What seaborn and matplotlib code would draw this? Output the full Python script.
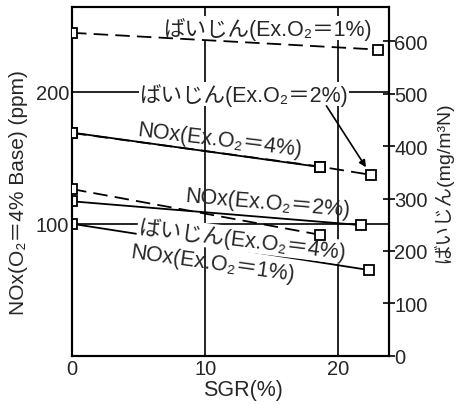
import matplotlib
matplotlib.use("Agg")
import matplotlib.pyplot as plt
import seaborn as sns
import pandas as pd

sns.set_theme(style="white")
FAM = ["Liberation Sans", "Noto Sans CJK JP", "DejaVu Sans"]
plt.rcParams["font.family"] = FAM

# ---- data (SGR %, values) ----
nox4_x = [0, 18.6]
nox4_y = [169, 143]          # ppm (left axis)
nox2_x = [0, 21.7]
nox2_y = [117, 99]
nox1_x = [0, 22.3]
nox1_y = [100, 65]
dust1_x = [0, 23.0]
dust1_y = [616, 584]         # mg/m3N (right axis)
dust2_x = [0, 18.6, 22.5]
dust2_y = [425, 361, 345]
dust4_x = [0, 18.6]
dust4_y = [318, 231]

x_ticks = [0, 10, 20]
x_ticklabels = ["0", "10", "20"]
left_ticks = [100, 200]
right_ticks = [0, 100, 200, 300, 400, 500, 600]

fig = plt.figure(figsize=(4.59, 4.06), dpi=100)
ax = fig.add_axes([0.157, 0.121, 0.690, 0.859])
ax2 = ax.twinx()

ax.set_xlim(0, 23.8)
ax.set_ylim(0, 264)
ax2.set_ylim(0, 665)

# grid lines
for gx in [10, 20]:
    ax.axvline(gx, color="black", lw=1.2, zorder=1)
for gy in left_ticks:
    ax.axhline(gy, color="black", lw=1.2, zorder=1)

mk = dict(marker="s", markersize=7, markerfacecolor="white",
          markeredgecolor="black", markeredgewidth=1.3, color="black", lw=1.3)

def draw(a, xs, ys, dashed=False):
    df = pd.DataFrame({"x": xs, "y": ys})
    sns.lineplot(data=df, x="x", y="y", ax=a, legend=False, zorder=3, **mk)
    if dashed:
        a.lines[-1].set_dashes([8, 4])

draw(ax, nox4_x, nox4_y)
draw(ax, nox2_x, nox2_y)
draw(ax, nox1_x, nox1_y)
draw(ax2, dust1_x, dust1_y, dashed=True)
draw(ax2, dust2_x, dust2_y, dashed=True)
draw(ax2, dust4_x, dust4_y, dashed=True)

for a in (ax, ax2):
    for s in a.spines.values():
        s.set_color("black")
        s.set_linewidth(1.5)
    a.set_xlabel("")
    a.set_ylabel("")

ax.set_xticks(x_ticks)
ax.set_xticklabels(x_ticklabels, fontsize=14.5)
ax.set_yticks(left_ticks)
ax.set_yticklabels([str(v) for v in left_ticks], fontsize=14.5)
ax.tick_params(axis="both", length=0, pad=2)
ax2.set_yticks(right_ticks)
ax2.set_yticklabels([str(v) for v in right_ticks], fontsize=14.5)
ax2.tick_params(axis="y", direction="inout", length=8, width=1.2, pad=0, color="black")

ax.set_xlabel("SGR(%)", fontsize=15.5)
ax.xaxis.set_label_coords(0.54, -0.065)
ax.set_ylabel("NOx(O₂＝4% Base) (ppm)", fontsize=15)
ax.yaxis.set_label_coords(-0.14, 0.47)
ax2.set_ylabel("ばいじん(mg/m³N)", fontsize=14, rotation=90, labelpad=4)

bb = dict(facecolor="white", edgecolor="none", pad=0.5)
tk = dict(fontsize=15.5, ha="center", va="center", zorder=5, family=FAM)
ax.text(14.7, 248, "ばいじん(Ex.O₂＝1%)", bbox=bb, **tk)
ax.text(12.9, 198, "ばいじん(Ex.O₂＝2%)", bbox=bb, **tk)
ax.text(11.1, 164, "NOx(Ex.O₂＝4%)", rotation=-7, **tk)
ax.text(14.7, 116, "NOx(Ex.O₂＝2%)", rotation=-5, **tk)
ax.text(12.75, 88, "ばいじん(Ex.O₂＝4%)", rotation=-7, bbox=bb, **tk)
ax.text(10.6, 70, "NOx(Ex.O₂＝1%)", rotation=-8, **tk)

ax.annotate("", xy=(22.2, 141), xytext=(19.0, 191),
            arrowprops=dict(arrowstyle="-|>", color="black", lw=1.2,
                            mutation_scale=10), zorder=5)

fig.savefig("out.png", dpi=100)
